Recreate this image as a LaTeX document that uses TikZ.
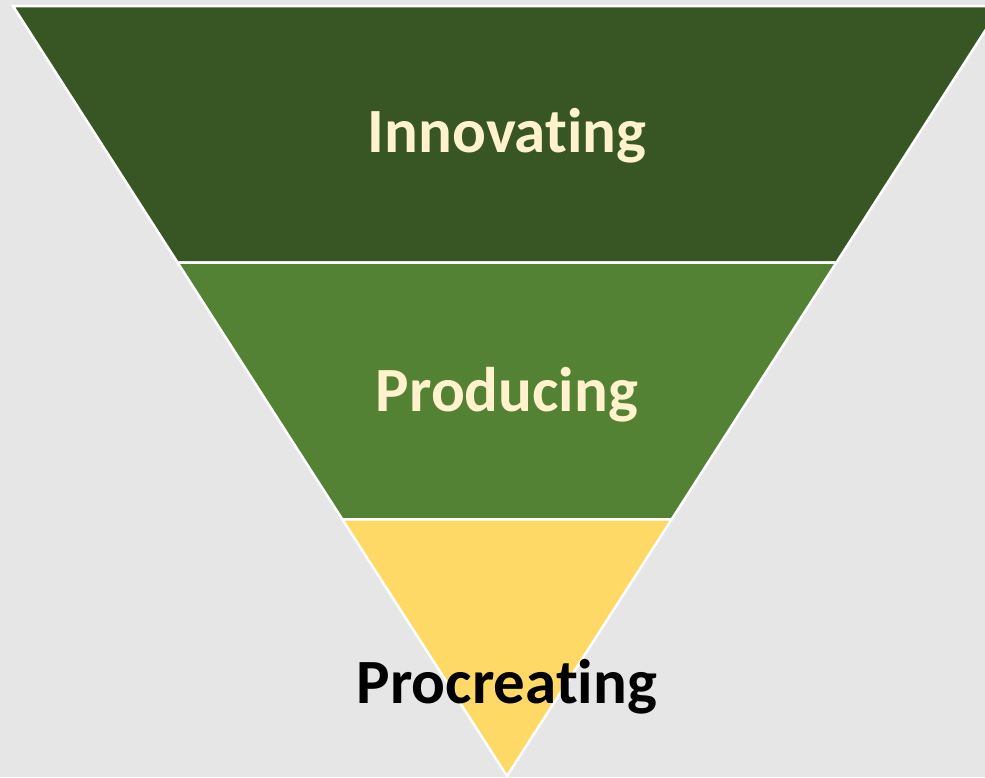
\documentclass[tikz,border=0pt]{standalone}
\usepackage{fontspec}
\setmainfont{Carlito}[Ligatures=NoCommon]
\usetikzlibrary{calc}
\definecolor{bggrey}{HTML}{E6E6E6}
\definecolor{darkgreen}{HTML}{375623}
\definecolor{midgreen}{HTML}{548235}
\definecolor{gold}{HTML}{FFD966}
\definecolor{cream}{HTML}{FFF2CC}
\tikzset{
  band/.style={draw=white,line width=2.5pt,line join=miter},
  label/.style={font=\fontsize{63}{63}\selectfont\bfseries,anchor=base,inner sep=0pt}
}
\begin{document}
\begin{tikzpicture}[x=1pt,y=-1pt]
\useasboundingbox (0,0) rectangle (985,777);
\fill[bggrey] (0,0) rectangle (985,777);
\coordinate (tl) at (13,6);
\coordinate (tr) at (1001,6);
\coordinate (apex) at (507,776);
\coordinate (ml) at ($(tl)!1/3!(apex)$);
\coordinate (mr) at ($(tr)!1/3!(apex)$);
\coordinate (ll) at ($(tl)!2/3!(apex)$);
\coordinate (lr) at ($(tr)!2/3!(apex)$);
\filldraw[band,fill=darkgreen] (tl) -- (tr) -- (mr) -- (ml) -- cycle;
\filldraw[band,fill=midgreen] (ml) -- (mr) -- (lr) -- (ll) -- cycle;
\filldraw[band,fill=gold] (ll) -- (lr) -- (apex) -- cycle;
\node[label,text=cream] (innovating) at (507,152) {Innovating};
\node[label,text=cream] (producing) at (507,411.5) {Producing};
\node[label,text=black] (procreating) at (507,703) {Procreating};
\end{tikzpicture}
\end{document}
